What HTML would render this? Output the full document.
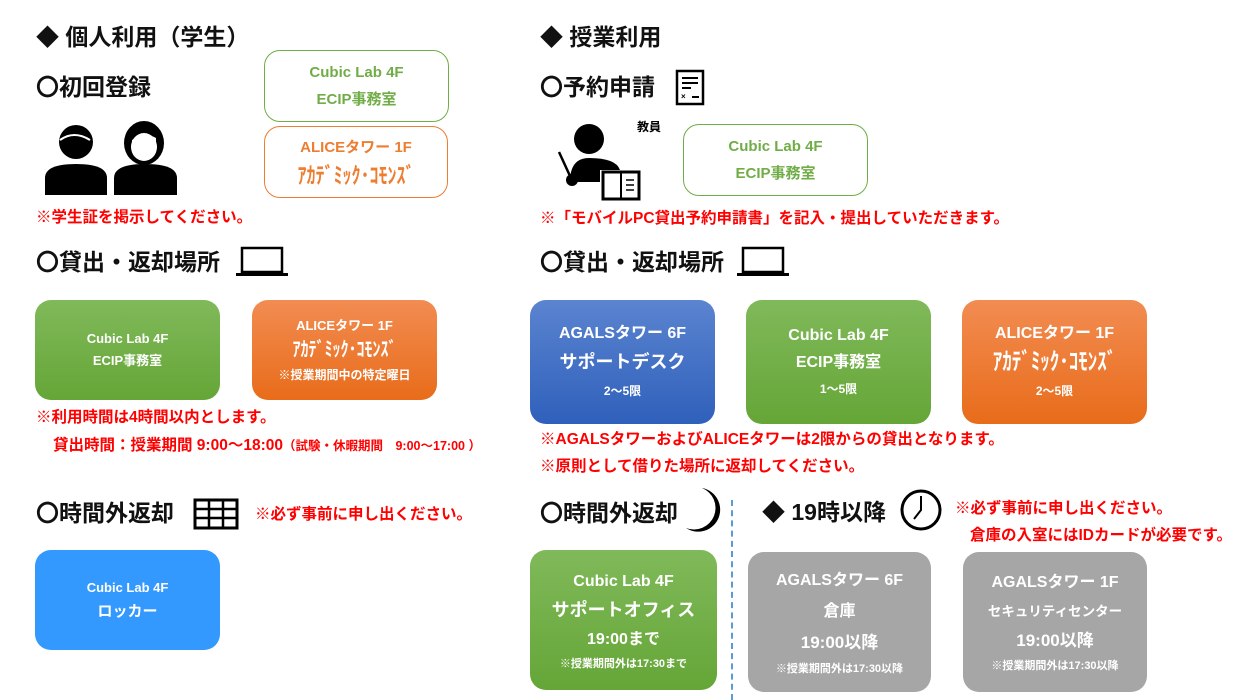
<!DOCTYPE html>
<html><head><meta charset="utf-8"><style>
*{margin:0;padding:0;box-sizing:border-box}
body{width:1250px;height:700px;background:#fff;position:relative;overflow:hidden;font-family:"Liberation Sans","Noto Sans CJK JP",sans-serif;font-weight:bold}
.a{position:absolute;white-space:nowrap}
.h{font-size:23px;color:#111;line-height:26px}
.r{color:#f00;font-size:15.5px;line-height:18px}
.box{position:absolute;border-radius:16px;display:flex;flex-direction:column;align-items:center;justify-content:center;text-align:center;color:#fff;white-space:nowrap}
.ol{background:#fff;border:1.5px solid #70ad47;color:#70ad47}
.oo{background:#fff;border:1.5px solid #ed7d31;color:#ed7d31}
.g{background:linear-gradient(#80b95a,#65a637);}
.o{background:linear-gradient(#f28c52,#e86c1a);}
.b{background:linear-gradient(#5b84d0,#2f60bb);}
.gr{background:#a6a6a6}
.bl{background:#3399ff}
.k{display:inline-block;transform:scaleY(1.25)}
</style></head><body>
<div class="a h" style="left:36px;top:24px">◆ 個人利用（学生）</div>
<div class="a h" style="left:36px;top:74px">〇初回登録</div>
<div class="box ol" style="left:264px;top:50px;width:185px;height:72px;font-size:15px;line-height:27px"><div>Cubic Lab 4F</div><div>ECIP事務室</div></div>
<div class="box oo" style="left:264px;top:126px;width:184px;height:72px;font-size:15px;line-height:29px"><div>ALICEタワー 1F</div><div class="k" style="font-size:18px">ｱｶﾃﾞﾐｯｸ･ｺﾓﾝｽﾞ</div></div>
<svg class="a" style="left:44px;top:120px" width="136" height="76" viewBox="0 0 136 76">
<circle cx="32" cy="22" r="17" fill="#000"/><path d="M16 20 Q30 10 46 20" stroke="#fff" stroke-width="2" fill="none"/>
<path d="M1 75 V58 Q1 44 32 44 Q63 44 63 58 V75Z" fill="#000"/>
<ellipse cx="100" cy="23" rx="20" ry="22" fill="#000"/><ellipse cx="100" cy="27" rx="13" ry="14" fill="#fff"/><path d="M88 20 Q102 12 112 18 L112 30 Q100 42 88 30Z" fill="#fff"/>
<path d="M70 75 V58 Q70 44 101 44 Q133 44 133 58 V75Z" fill="#000"/></svg>
<div class="a r" style="left:36px;top:209px">※学生証を掲示してください。</div>
<div class="a h" style="left:36px;top:249px">〇貸出・返却場所</div>
<svg class="a" style="left:236px;top:246px" width="52" height="32"><rect x="6" y="2" width="40" height="24" fill="none" stroke="#000" stroke-width="2.5"/><rect x="0" y="27" width="52" height="3" fill="#000"/></svg>
<div class="box g" style="left:35px;top:300px;width:185px;height:100px;font-size:13px;line-height:22px"><div>Cubic Lab 4F</div><div>ECIP事務室</div></div>
<div class="box o" style="left:252px;top:300px;width:185px;height:100px;font-size:13px;line-height:25px"><div>ALICEタワー 1F</div><div class="k" style="font-size:16px">ｱｶﾃﾞﾐｯｸ･ｺﾓﾝｽﾞ</div><div style="font-size:12px">※授業期間中の特定曜日</div></div>
<div class="a r" style="left:36px;top:409px">※利用時間は4時間以内とします。</div>
<div class="a r" style="left:53px;top:437px">貸出時間：授業期間 9:00～18:00<span style="font-size:12.5px">（試験・休暇期間　9:00～17:00 ）</span></div>
<div class="a h" style="left:36px;top:500px">〇時間外返却</div>
<svg class="a" style="left:193px;top:498px" width="46" height="32"><rect x="2" y="2" width="42" height="28" fill="none" stroke="#000" stroke-width="3"/><path d="M2 11H44M2 20H44M16 2V30M30 2V30" stroke="#000" stroke-width="2.5"/></svg>
<div class="a r" style="left:255px;top:506px">※必ず事前に申し出ください。</div>
<div class="box bl" style="left:35px;top:550px;width:185px;height:100px;font-size:13px;line-height:24px"><div>Cubic Lab 4F</div><div style="font-size:15px">ロッカー</div></div>

<div class="a h" style="left:540px;top:24px">◆ 授業利用</div>
<div class="a h" style="left:540px;top:74px">〇予約申請</div>
<svg class="a" style="left:675px;top:69px" width="30" height="37"><rect x="2" y="2" width="26" height="33" fill="none" stroke="#000" stroke-width="2.5"/><path d="M7 9H23M7 14H23M7 19H16M17 28H24" stroke="#000" stroke-width="2"/><text x="6" y="30" font-size="8">×</text></svg>
<svg class="a" style="left:556px;top:122px" width="86" height="80"><circle cx="33" cy="17" r="15" fill="#000"/><path d="M14 60 Q14 36 33 36 Q60 36 64 48 L44 48 L44 60Z" fill="#000"/><line x1="3" y1="30" x2="14" y2="54" stroke="#000" stroke-width="2.5"/><circle cx="16" cy="58" r="6" fill="#000"/><rect x="47" y="50" width="36" height="27" fill="#fff" stroke="#000" stroke-width="3"/><line x1="65" y1="50" x2="65" y2="77" stroke="#000" stroke-width="2"/><path d="M70 58H78M70 63H78M70 68H78" stroke="#000" stroke-width="1.5"/></svg>
<div class="a" style="left:637px;top:118px;font-size:12px">教員</div>
<div class="box ol" style="left:683px;top:124px;width:185px;height:72px;font-size:15px;line-height:27px"><div>Cubic Lab 4F</div><div>ECIP事務室</div></div>
<div class="a r" style="left:540px;top:210px">※「モバイルPC貸出予約申請書」を記入・提出していただきます。</div>
<div class="a h" style="left:540px;top:249px">〇貸出・返却場所</div>
<svg class="a" style="left:737px;top:246px" width="52" height="32"><rect x="6" y="2" width="40" height="24" fill="none" stroke="#000" stroke-width="2.5"/><rect x="0" y="27" width="52" height="3" fill="#000"/></svg>
<div class="box b" style="left:530px;top:300px;width:185px;height:124px;font-size:16px;line-height:29px"><div>AGALSタワー 6F</div><div style="font-size:18px">サポートデスク</div><div style="font-size:12px">2～5限</div></div>
<div class="box g" style="left:746px;top:300px;width:185px;height:124px;font-size:16px;line-height:27px"><div>Cubic Lab 4F</div><div>ECIP事務室</div><div style="font-size:12px">1～5限</div></div>
<div class="box o" style="left:962px;top:300px;width:185px;height:124px;font-size:16px;line-height:29px"><div>ALICEタワー 1F</div><div class="k" style="font-size:19px">ｱｶﾃﾞﾐｯｸ･ｺﾓﾝｽﾞ</div><div style="font-size:12px">2～5限</div></div>
<div class="a r" style="left:540px;top:431px">※AGALSタワーおよびALICEタワーは2限からの貸出となります。</div>
<div class="a r" style="left:540px;top:458px">※原則として借りた場所に返却してください。</div>
<div class="a h" style="left:540px;top:500px">〇時間外返却</div>
<svg class="a" style="left:684px;top:486px" width="38" height="46"><path d="M18 2 A22 22 0 1 1 2 42 A20 20 0 0 0 18 2Z" fill="#000"/></svg>
<div class="a" style="left:731px;top:500px;height:200px;border-left:2px dashed #5b9bd5"></div>
<div class="a h" style="left:762px;top:499px">◆ 19時以降</div>
<svg class="a" style="left:899px;top:488px" width="44" height="44"><circle cx="22" cy="22" r="19" fill="none" stroke="#000" stroke-width="3"/><path d="M22 8V22L15 31" stroke="#000" stroke-width="2" fill="none"/></svg>
<div class="a r" style="left:955px;top:500px">※必ず事前に申し出ください。</div>
<div class="a r" style="left:970px;top:527px">倉庫の入室にはIDカードが必要です。</div>
<div class="box g" style="left:530px;top:550px;width:187px;height:140px;font-size:16px;line-height:29px"><div>Cubic Lab 4F</div><div style="font-size:18px">サポートオフィス</div><div style="font-size:16px">19:00まで</div><div style="font-size:11px;line-height:20px">※授業期間外は17:30まで</div></div>
<div class="box gr" style="left:748px;top:552px;width:183px;height:140px;font-size:16px;line-height:31px"><div>AGALSタワー 6F</div><div>倉庫</div><div style="font-size:17px">19:00以降</div><div style="font-size:11px;line-height:22px">※授業期間外は17:30以降</div></div>
<div class="box gr" style="left:963px;top:552px;width:184px;height:140px;font-size:16px;line-height:29px"><div>AGALSタワー 1F</div><div style="font-size:13.5px">セキュリティセンター</div><div style="font-size:17px">19:00以降</div><div style="font-size:11px;line-height:22px">※授業期間外は17:30以降</div></div>
</body></html>
